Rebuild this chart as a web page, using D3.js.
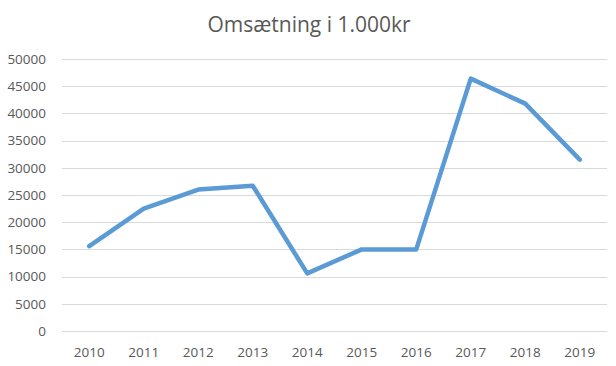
<!DOCTYPE html>
<html><head><meta charset="utf-8">
<script src="https://cdn.jsdelivr.net/npm/d3@7"></script>
<style>body{margin:0;background:#fff}svg{display:block}text{font-family:"Open Sans",sans-serif;fill:#595959}</style>
</head><body>
<svg id="c" width="616" height="366"></svg>
<script>
const categories = ["2010","2011","2012","2013","2014","2015","2016","2017","2018","2019"];
const values = [15600,22500,26000,26700,10600,15000,15000,46400,41800,31500];
const yTicks = [0,5000,10000,15000,20000,25000,30000,35000,40000,45000,50000];
const title = "Omsætning i 1.000kr";

const svg = d3.select("#c");
const x = d3.scaleBand().domain(categories).range([62,607]);
const y = d3.scaleLinear().domain([0,50000]).range([331,59]);

svg.append("g").selectAll("line").data(yTicks).join("line")
  .attr("x1",62).attr("x2",607)
  .attr("y1",d=>Math.round(y(d))+0.5).attr("y2",d=>Math.round(y(d))+0.5)
  .attr("stroke","#d9d9d9").attr("stroke-width",1);

const ya = d3.axisLeft(y).tickValues(yTicks).tickSize(0).tickPadding(0).tickFormat(d=>String(d));
const gy = svg.append("g").attr("transform","translate(46,0)").call(ya);
gy.select(".domain").remove();
gy.selectAll("text").attr("font-size","13.5px").style("fill","#595959").attr("font-family","Open Sans");

const xa = d3.axisBottom(x).tickSize(0).tickPadding(0);
const gx = svg.append("g").attr("transform","translate(0,347)").call(xa);
gx.select(".domain").remove();
gx.selectAll("text").attr("font-size","13.5px").style("fill","#595959").attr("font-family","Open Sans").attr("dy","0.71em");

const line = d3.line().x((d,i)=>x(categories[i])+x.bandwidth()/2).y(d=>y(d));
svg.append("path").datum(values).attr("d",line)
  .attr("fill","none").attr("stroke","#5B9BD5").attr("stroke-width",4.5)
  .attr("stroke-linejoin","round").attr("stroke-linecap","round");

svg.append("text").attr("x",309).attr("y",32).attr("text-anchor","middle")
  .attr("font-size","21px").text(title);
</script>
</body></html>
